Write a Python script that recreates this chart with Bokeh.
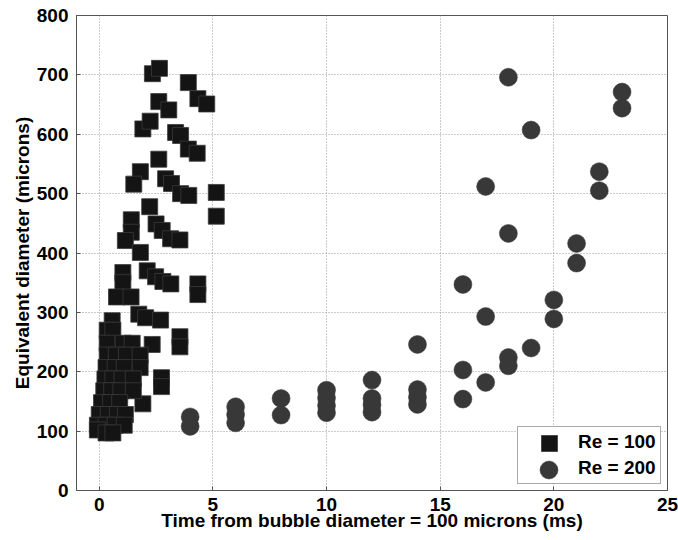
from bokeh.plotting import figure
from bokeh.models import FixedTicker, Legend, LegendItem, ColumnDataSource
from bokeh.embed import file_html
from bokeh.resources import INLINE

# Re = 100 (squares)
t_re100 = [2.34, 2.65, 3.92, 4.34, 4.73, 2.62, 3.06, 1.92, 2.24, 3.36, 3.58, 3.92, 4.31,
           2.62, 1.81, 1.52, 2.92, 3.18, 3.58, 3.94, 5.15, 5.15, 2.22, 1.41, 1.41, 1.15,
           2.50, 2.77, 3.14, 3.55, 1.81, 1.04, 1.04, 0.76, 1.40, 2.11, 2.48, 2.80, 3.15,
           4.34, 4.34, 1.74, 2.04, 2.70, 0.57, 3.55, 3.55, 2.33, 2.74, 2.74, 1.92,
           0.35, 0.60,
           0.35, 1.05, 1.45,
           0.35, 0.75, 1.20, 1.80,
           0.30, 0.70, 1.10, 1.80,
           0.25, 0.60, 1.00, 1.50,
           0.20, 0.55, 0.95, 1.50,
           0.10, 0.50, 0.90,
           0.00, 0.40, 0.80, 1.15,
           -0.08, 0.30, 0.70, 1.10,
           -0.08, 0.30, 0.60]
d_re100 = [702, 711, 687, 660, 651, 655, 641, 609, 622, 603, 598, 575, 568,
           558, 537, 516, 525, 517, 500, 497, 502, 462, 478, 456, 435, 421,
           449, 438, 424, 422, 401, 367, 350, 326, 326, 370, 360, 352, 348,
           348, 330, 297, 291, 287, 286, 259, 242, 246, 190, 175, 146,
           270, 270,
           248, 248, 248,
           228, 228, 228, 228,
           207, 207, 207, 207,
           188, 188, 188, 188,
           168, 168, 168, 168,
           148, 148, 148,
           128, 128, 128, 128,
           110, 110, 110, 110,
           102, 97, 97]

# Re = 200 (circles)
t_re200 = [4, 4, 6, 6, 6, 8, 8, 10, 10, 10, 10, 12, 12, 12, 12, 14, 14, 14, 14,
           16, 16, 16, 17, 17, 17, 18, 18, 18, 18, 19, 19, 20, 20, 21, 21, 22, 22, 23, 23]
d_re200 = [124, 108, 141, 128, 114, 155, 127, 169, 156, 143, 131, 186, 155, 144, 132,
           246, 170, 157, 145, 347, 203, 154, 512, 293, 182, 696, 433, 224, 210,
           607, 240, 321, 289, 416, 383, 537, 505, 671, 644]

x_ticks = [0, 5, 10, 15, 20, 25]
y_ticks = [0, 100, 200, 300, 400, 500, 600, 700, 800]
series_labels = ["Re = 100", "Re = 200"]

FONT = "Liberation Sans"
FS = "19px"
AXIS_GRAY = "#555555"

p = figure(width=678, height=540, x_range=(-1, 25), y_range=(0, 800),
           output_backend="svg", toolbar_location=None,
           min_border_left=76, min_border_right=11, min_border_top=15, min_border_bottom=50)

p.background_fill_color = "white"
p.border_fill_color = "white"
p.outline_line_color = AXIS_GRAY
p.outline_line_width = 1

for ax in (p.xaxis, p.yaxis):
    ax.major_label_text_font = FONT
    ax.major_label_text_font_style = "bold"
    ax.major_label_text_font_size = FS
    ax.major_label_text_color = "black"
    ax.axis_label_text_font = FONT
    ax.axis_label_text_font_style = "bold"
    ax.axis_label_text_font_size = FS
    ax.axis_label_text_color = "black"
    ax.axis_line_color = AXIS_GRAY
    ax.major_tick_line_color = AXIS_GRAY
    ax.major_tick_in = 4
    ax.major_tick_out = 0
    ax.minor_tick_line_color = None

p.xaxis.ticker = FixedTicker(ticks=x_ticks)
p.yaxis.ticker = FixedTicker(ticks=y_ticks)
p.xaxis.axis_label = "Time from bubble diameter = 100 microns (ms)"
p.yaxis.axis_label = "Equivalent diameter (microns)"
p.xaxis.major_label_standoff = 7
p.xaxis.axis_label_standoff = -4
p.yaxis.major_label_standoff = 8
p.yaxis.axis_label_standoff = 1

for g in (p.xgrid, p.ygrid):
    g.grid_line_color = "#999999"
    g.grid_line_dash = "1 2"
    g.grid_line_width = 1

src100 = ColumnDataSource(data=dict(t=t_re100, d=d_re100))
src200 = ColumnDataSource(data=dict(t=t_re200, d=d_re200))

r100 = p.scatter("t", "d", source=src100, marker="square", size=16,
                 fill_color="#141414", line_color="#3a3a3a", line_width=0.8)
r200 = p.scatter("t", "d", source=src200, marker="circle", size=18,
                 fill_color="#383838", line_color="#383838", line_width=0.5)

# main legend: box + labels (its small swatches are covered by the larger ones below)
legend = Legend(items=[LegendItem(label=series_labels[0], renderers=[r100]),
                       LegendItem(label=series_labels[1], renderers=[r200])],
                location=(441, 6),
                glyph_width=20, glyph_height=22, label_height=22,
                spacing=4, padding=dict(left=22, right=4, top=4, bottom=4),
                label_standoff=18,
                label_text_font=FONT, label_text_font_style="bold",
                label_text_font_size=FS, label_text_color="black",
                border_line_color=AXIS_GRAY, border_line_width=1,
                background_fill_color="white", background_fill_alpha=1)
p.add_layout(legend)

# larger legend swatches (Bokeh draws legend markers at 0.4 x the glyph box)
sw1 = Legend(items=[LegendItem(label=" ", renderers=[r100])],
             location=(453, 27), glyph_width=40, glyph_height=40, label_height=20,
             padding=0, spacing=0, label_standoff=0, label_text_font_size="1px",
             border_line_alpha=0, background_fill_alpha=0)
sw2 = Legend(items=[LegendItem(label=" ", renderers=[r200])],
             location=(450, -2), glyph_width=45, glyph_height=45, label_height=20,
             padding=0, spacing=0, label_standoff=0, label_text_font_size="1px",
             border_line_alpha=0, background_fill_alpha=0)
p.add_layout(sw1)
p.add_layout(sw2)

open("out.html", "w").write(file_html(p, INLINE))
